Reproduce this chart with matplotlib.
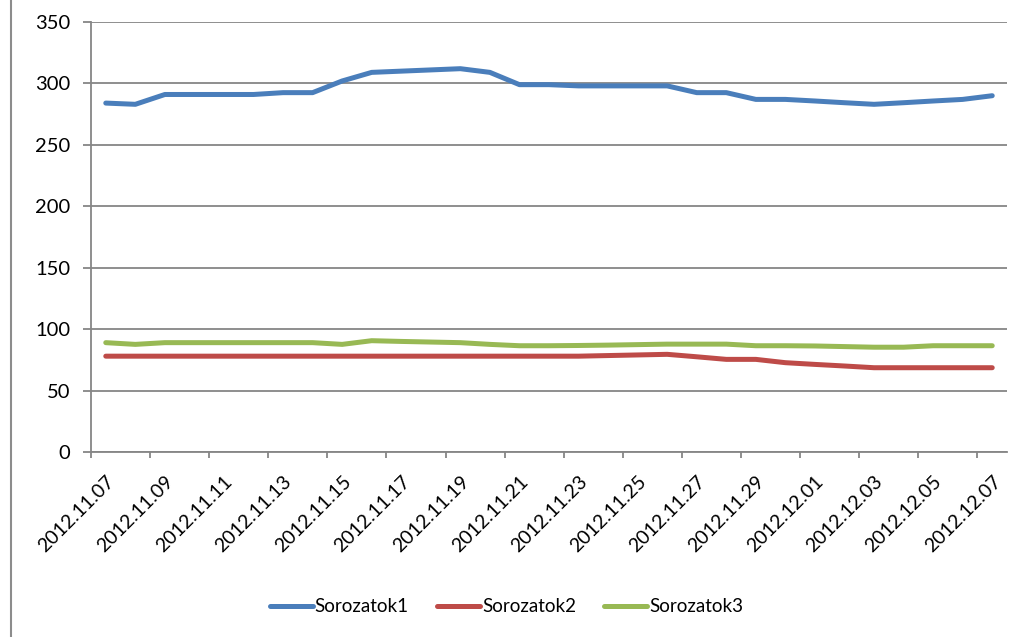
import matplotlib
matplotlib.use("Agg")
import matplotlib.pyplot as plt
from matplotlib.lines import Line2D
import pandas as pd

plt.rcParams["font.family"] = ["Lato", "DejaVu Sans"]

# napi kategóriák (2012.11.07 - 2012.12.07)
dates = pd.date_range("2012-11-07", "2012-12-07", freq="D")
labels = [d.strftime("%Y.%m.%d") for d in dates]

sorozat1 = [284, 283, 291, 291, 291, 291, 292.5, 292.5, 302, 309, 310, 311, 312, 309, 299,
            299, 298, 298, 298, 298, 292.5, 292.5, 287, 287, 285.7, 284.3, 283, 284.3, 285.7, 287, 290]
sorozat2 = [78, 78, 78, 78, 78, 78, 78, 78, 78, 78, 78, 78, 78, 78, 78,
            78, 78, 78.5, 79, 79.5, 77.5, 75.4, 75.4, 72.7, 71.3, 70, 68.6, 68.6, 68.6, 68.6, 68.6]
sorozat3 = [89, 87.6, 89, 89, 89, 89, 89, 89, 87.6, 90.6, 90, 89.5, 89, 87.6, 86.5,
            86.5, 86.7, 87, 87.4, 87.8, 87.8, 87.8, 86.5, 86.5, 86.3, 85.8, 85.3, 85.3, 86.5, 86.5, 86.5]

series = [("Sorozatok1", sorozat1, "#4A7EBB"),
          ("Sorozatok2", sorozat2, "#BE4B48"),
          ("Sorozatok3", sorozat3, "#98B954")]

grid_c = "#868686"

fig = plt.figure(figsize=(10.29, 6.37), dpi=100)
ax = fig.add_axes([91 / 1029, 1 - 452 / 637, (1007 - 91) / 1029, (452 - 22) / 637])

x = list(range(len(labels)))
for name, vals, col in series:
    ax.plot(x, vals, color=col, lw=3.6, label=name, solid_capstyle="round", solid_joinstyle="round")

ax.set_xlim(-0.5, len(labels) - 0.5)
ax.set_ylim(0, 350)
ax.set_yticks(range(0, 351, 50))
ax.yaxis.grid(True, color=grid_c, lw=1.3)
ax.set_axisbelow(True)

ax.set_xticks(x[::2])
ax.set_xticklabels(labels[::2], rotation=45, ha="right", va="top", rotation_mode="anchor")
ax.set_xticks([i - 0.5 for i in range(0, len(labels), 2)], minor=True)
ax.tick_params(axis="x", which="major", length=0, pad=15, labelsize=14)
ax.tick_params(axis="x", which="minor", length=4.3, color=grid_c, width=1.3)
ax.tick_params(axis="y", length=5.8, color=grid_c, width=1.3, labelsize=14.5, pad=9)

for s in ["top", "right"]:
    ax.spines[s].set_visible(False)
for s in ["left", "bottom"]:
    ax.spines[s].set_color(grid_c)
    ax.spines[s].set_linewidth(1.3)

fig.add_artist(Line2D([10.5 / 1029, 10.5 / 1029], [0, 1], color="#8c8c8c", lw=1.5))

fig.legend(loc="center", bbox_to_anchor=(0.492, 1 - 607 / 637), ncol=3, frameon=False,
           fontsize=13.5, handlelength=2.3, handletextpad=0.1, columnspacing=1.5)

fig.savefig("out.png", dpi=100)
